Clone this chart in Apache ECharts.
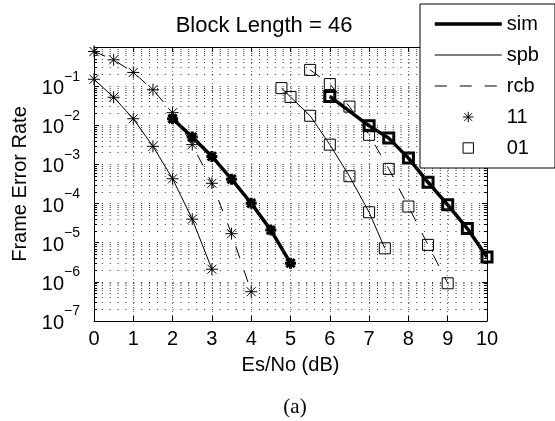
<!DOCTYPE html>
<html><head><meta charset="utf-8">
<script src="https://cdn.jsdelivr.net/npm/echarts@6/dist/echarts.min.js"></script>
<style>html,body{margin:0;padding:0;background:#fff}#c{width:555px;height:421px}</style>
</head><body><div id="c"></div>
<script>
// ---- data ----
const xTicks = [0, 1, 2, 3, 4, 5, 6, 7, 8, 9, 10];
const yExponents = [-7, -6, -5, -4, -3, -2, -1];   // labelled decades (10^0 unlabelled)
const minorMantissas = [2, 3, 4, 5, 6, 7, 8, 9];

const x11spb = [0, 0.5, 1, 1.5, 2, 2.5, 3];
const fer11spb = [0.15, 0.052, 0.0147, 0.0029, 4.3e-4, 4.0e-5, 2.1e-6];
const x11rcb = [0, 0.5, 1, 1.5, 2, 2.5, 3, 3.5, 4];
const fer11rcb = [0.77, 0.47, 0.224, 0.081, 0.021, 0.0032, 3.3e-4, 1.7e-5, 5.6e-7];
const x11sim = [2, 2.5, 3, 3.5, 4, 4.5, 5];
const fer11sim = [0.0147, 0.005, 0.0016, 4.2e-4, 1.02e-4, 2.1e-5, 3.0e-6];

const x01spb = [4.77, 5, 5.5, 6, 6.5, 7, 7.4];
const fer01spb = [0.089, 0.053, 0.0175, 0.0032, 5.0e-4, 6.0e-5, 7.2e-6];
const x01rcb = [5.5, 6, 6.5, 7, 7.5, 8, 8.5, 9];
const fer01rcb = [0.26, 0.113, 0.030, 0.0057, 7.7e-4, 8.4e-5, 8.8e-6, 9.2e-7];
const x01sim = [6, 7, 7.5, 8, 8.5, 9, 9.5, 10];
const fer01sim = [0.0545, 0.0097, 0.0047, 1.45e-3, 3.5e-4, 9.3e-5, 2.3e-5, 4.3e-6];

const legendNames = ['sim', 'spb', 'rcb', '11', '01'];

// ---- build ----
const FONT = '"Liberation Sans", Arial, Helvetica, sans-serif';
const STAR = 'path://M0,-10L0,10M-10,0L10,0M-7.5,-7.5L7.5,7.5M-7.5,7.5L7.5,-7.5';
const zip = (xs, ys) => xs.map((x, i) => [x, ys[i]]);
const CLEAR = 'rgba(0,0,0,0)';
const DASH = [12, 13];

const gridVals = [];
const minorVals = [];
for (let e = -7; e < 0; e++) {
  if (e > -7) gridVals.push(Math.pow(10, e));
  minorMantissas.forEach(m => { const v = m * Math.pow(10, e); gridVals.push(v); minorVals.push(v); });
}
const x0 = xTicks[0], x1 = xTicks[xTicks.length - 1];
const tickSegs = [];
minorVals.forEach(v => {
  tickSegs.push([{ coord: [x0, v] }, { coord: [x0 + 0.08, v] }]);
  tickSegs.push([{ coord: [x1 - 0.08, v] }, { coord: [x1, v] }]);
});

function mkSeries(name, xs, ys, symbol, size, lw, bw, dash) {
  return {
    name, type: 'line', data: zip(xs, ys), z: 3,
    symbol, symbolSize: size, showAllSymbol: true,
    lineStyle: { color: '#000', width: lw, type: dash || 'solid' },
    itemStyle: { color: CLEAR, borderColor: '#000', borderWidth: bw },
    emphasis: { disabled: true }, animation: false
  };
}

const legendStyle = {
  sim: { lineStyle: { width: 3.5, color: '#000', type: 'solid' }, itemStyle: { opacity: 0 } },
  spb: { lineStyle: { width: 1, color: '#000', type: 'solid' }, itemStyle: { opacity: 0 } },
  rcb: { lineStyle: { width: 1, color: '#000', type: DASH }, itemStyle: { opacity: 0 } },
  '11': { lineStyle: { width: 0, opacity: 0 }, itemStyle: { color: CLEAR, borderColor: '#000', borderWidth: 1 } },
  '01': { lineStyle: { width: 0, opacity: 0 }, itemStyle: { color: CLEAR, borderColor: '#000', borderWidth: 1 } }
};

const chart = echarts.init(document.getElementById('c'), null, { renderer: 'canvas' });
chart.setOption({
  backgroundColor: '#fff',
  animation: false,
  title: [
    { text: 'Block Length = 46', left: 259, top: 10, textAlign: 'center',
      textStyle: { fontFamily: FONT, fontSize: 22, fontWeight: 'normal', color: '#000' } },
    { text: '(a)', left: 290, top: 392, textAlign: 'center',
      textStyle: { fontFamily: '"Liberation Serif", "Times New Roman", serif', fontSize: 21, fontWeight: 'normal', color: '#000' } }
  ],
  grid: { left: 94, right: 68, top: 47, bottom: 100 },
  legend: {
    data: legendNames.map(n => Object.assign({ name: n }, legendStyle[n])),
    orient: 'vertical', left: 420, top: 4,
    itemWidth: 67, itemHeight: 13, itemGap: 11,
    padding: [10, 16, 10, 13],
    backgroundColor: '#fff', borderColor: '#000', borderWidth: 1,
    selectedMode: false, z: 10,
    textStyle: { fontFamily: FONT, fontSize: 20, color: '#000' }
  },
  xAxis: [
    { type: 'value', min: x0, max: x1, interval: 1,
      name: 'Es/No (dB)', nameLocation: 'middle', nameGap: 34,
      nameTextStyle: { fontFamily: FONT, fontSize: 20, color: '#000' },
      axisLine: { show: true, onZero: false, lineStyle: { color: '#000', width: 1 } },
      axisTick: { show: true, inside: true, length: 5, lineStyle: { color: '#000' } },
      axisLabel: { margin: 8, fontFamily: FONT, fontSize: 20, color: '#000' },
      splitLine: { show: true, lineStyle: { color: '#777', width: 1, type: [1, 3] } } },
    { type: 'value', position: 'top', min: x0, max: x1, interval: 1,
      axisLine: { show: true, onZero: false, lineStyle: { color: '#000', width: 1 } },
      axisTick: { show: true, inside: true, length: 5, lineStyle: { color: '#000' } },
      axisLabel: { show: false }, splitLine: { show: false } }
  ],
  yAxis: [
    { type: 'log', logBase: 10, min: 1e-7, max: 1, splitNumber: 7,
      name: 'Frame Error Rate', nameLocation: 'middle', nameGap: 54,
      nameTextStyle: { fontFamily: FONT, fontSize: 20, color: '#000' },
      axisLine: { show: true, onZero: false, lineStyle: { color: '#000', width: 1 } },
      axisTick: { show: true, inside: true, length: 5, lineStyle: { color: '#000' } },
      axisLabel: {
        margin: 14, padding: [0, 0, 4, 0],
        formatter: v => {
          const e = Math.round(Math.log10(v));
          return yExponents.indexOf(e) >= 0 ? '{b|10}{s|\u2212' + (-e) + '}' : '';
        },
        rich: {
          b: { fontFamily: FONT, fontSize: 20, color: '#000', padding: [9, 0, 0, 0], verticalAlign: 'bottom' },
          s: { fontFamily: FONT, fontSize: 14, color: '#000', verticalAlign: 'top' }
        }
      },
      splitLine: { show: false } },
    { type: 'log', logBase: 10, min: 1e-7, max: 1, splitNumber: 7, position: 'right',
      axisLine: { show: true, onZero: false, lineStyle: { color: '#000', width: 1 } },
      axisTick: { show: true, inside: true, length: 5, lineStyle: { color: '#000' } },
      axisLabel: { show: false }, splitLine: { show: false } }
  ],
  series: [
    { name: 'grid', type: 'line', data: [], z: 1, silent: true,
      markLine: { silent: true, symbol: ['none', 'none'], label: { show: false }, animation: false,
        precision: 12, emphasis: { disabled: true },
        lineStyle: { color: '#333', width: 1, type: [1, 6.86] },
        data: gridVals.map(v => [{ coord: [x0, v] }, { coord: [x1, v] }]) } },
    { name: 'minorTicks', type: 'line', data: [], z: 2, silent: true,
      markLine: { silent: true, symbol: ['none', 'none'], label: { show: false }, animation: false,
        precision: 12, emphasis: { disabled: true },
        lineStyle: { color: '#000', width: 1, type: 'solid' },
        data: tickSegs } },
    mkSeries('11 spb', x11spb, fer11spb, STAR, 12, 1, 1),
    mkSeries('11 rcb', x11rcb, fer11rcb, STAR, 12, 1, 1, DASH),
    mkSeries('11 sim', x11sim, fer11sim, STAR, 11, 3.5, 3),
    mkSeries('01 spb', x01spb, fer01spb, 'rect', 11, 1, 1),
    mkSeries('01 rcb', x01rcb, fer01rcb, 'rect', 11, 1, 1, DASH),
    mkSeries('01 sim', x01sim, fer01sim, 'rect', 10, 3.5, 3),
    // legend samples
    { name: 'sim', type: 'line', data: [], symbol: 'none', lineStyle: { color: '#000', width: 3.5 },
      itemStyle: { color: CLEAR, borderWidth: 0, opacity: 0 } },
    { name: 'spb', type: 'line', data: [], symbol: 'none', lineStyle: { color: '#000', width: 1 },
      itemStyle: { color: CLEAR, borderWidth: 0, opacity: 0 } },
    { name: 'rcb', type: 'line', data: [], symbol: 'none', lineStyle: { color: '#000', width: 1, type: DASH },
      itemStyle: { color: CLEAR, borderWidth: 0, opacity: 0 } },
    { name: '11', type: 'line', data: [], symbol: STAR, lineStyle: { color: '#000', width: 0, opacity: 0 },
      itemStyle: { color: CLEAR, borderColor: '#000', borderWidth: 1 } },
    { name: '01', type: 'line', data: [], symbol: 'rect', lineStyle: { color: '#000', width: 0, opacity: 0 },
      itemStyle: { color: CLEAR, borderColor: '#000', borderWidth: 1 } }
  ]
});
</script>
</body></html>
